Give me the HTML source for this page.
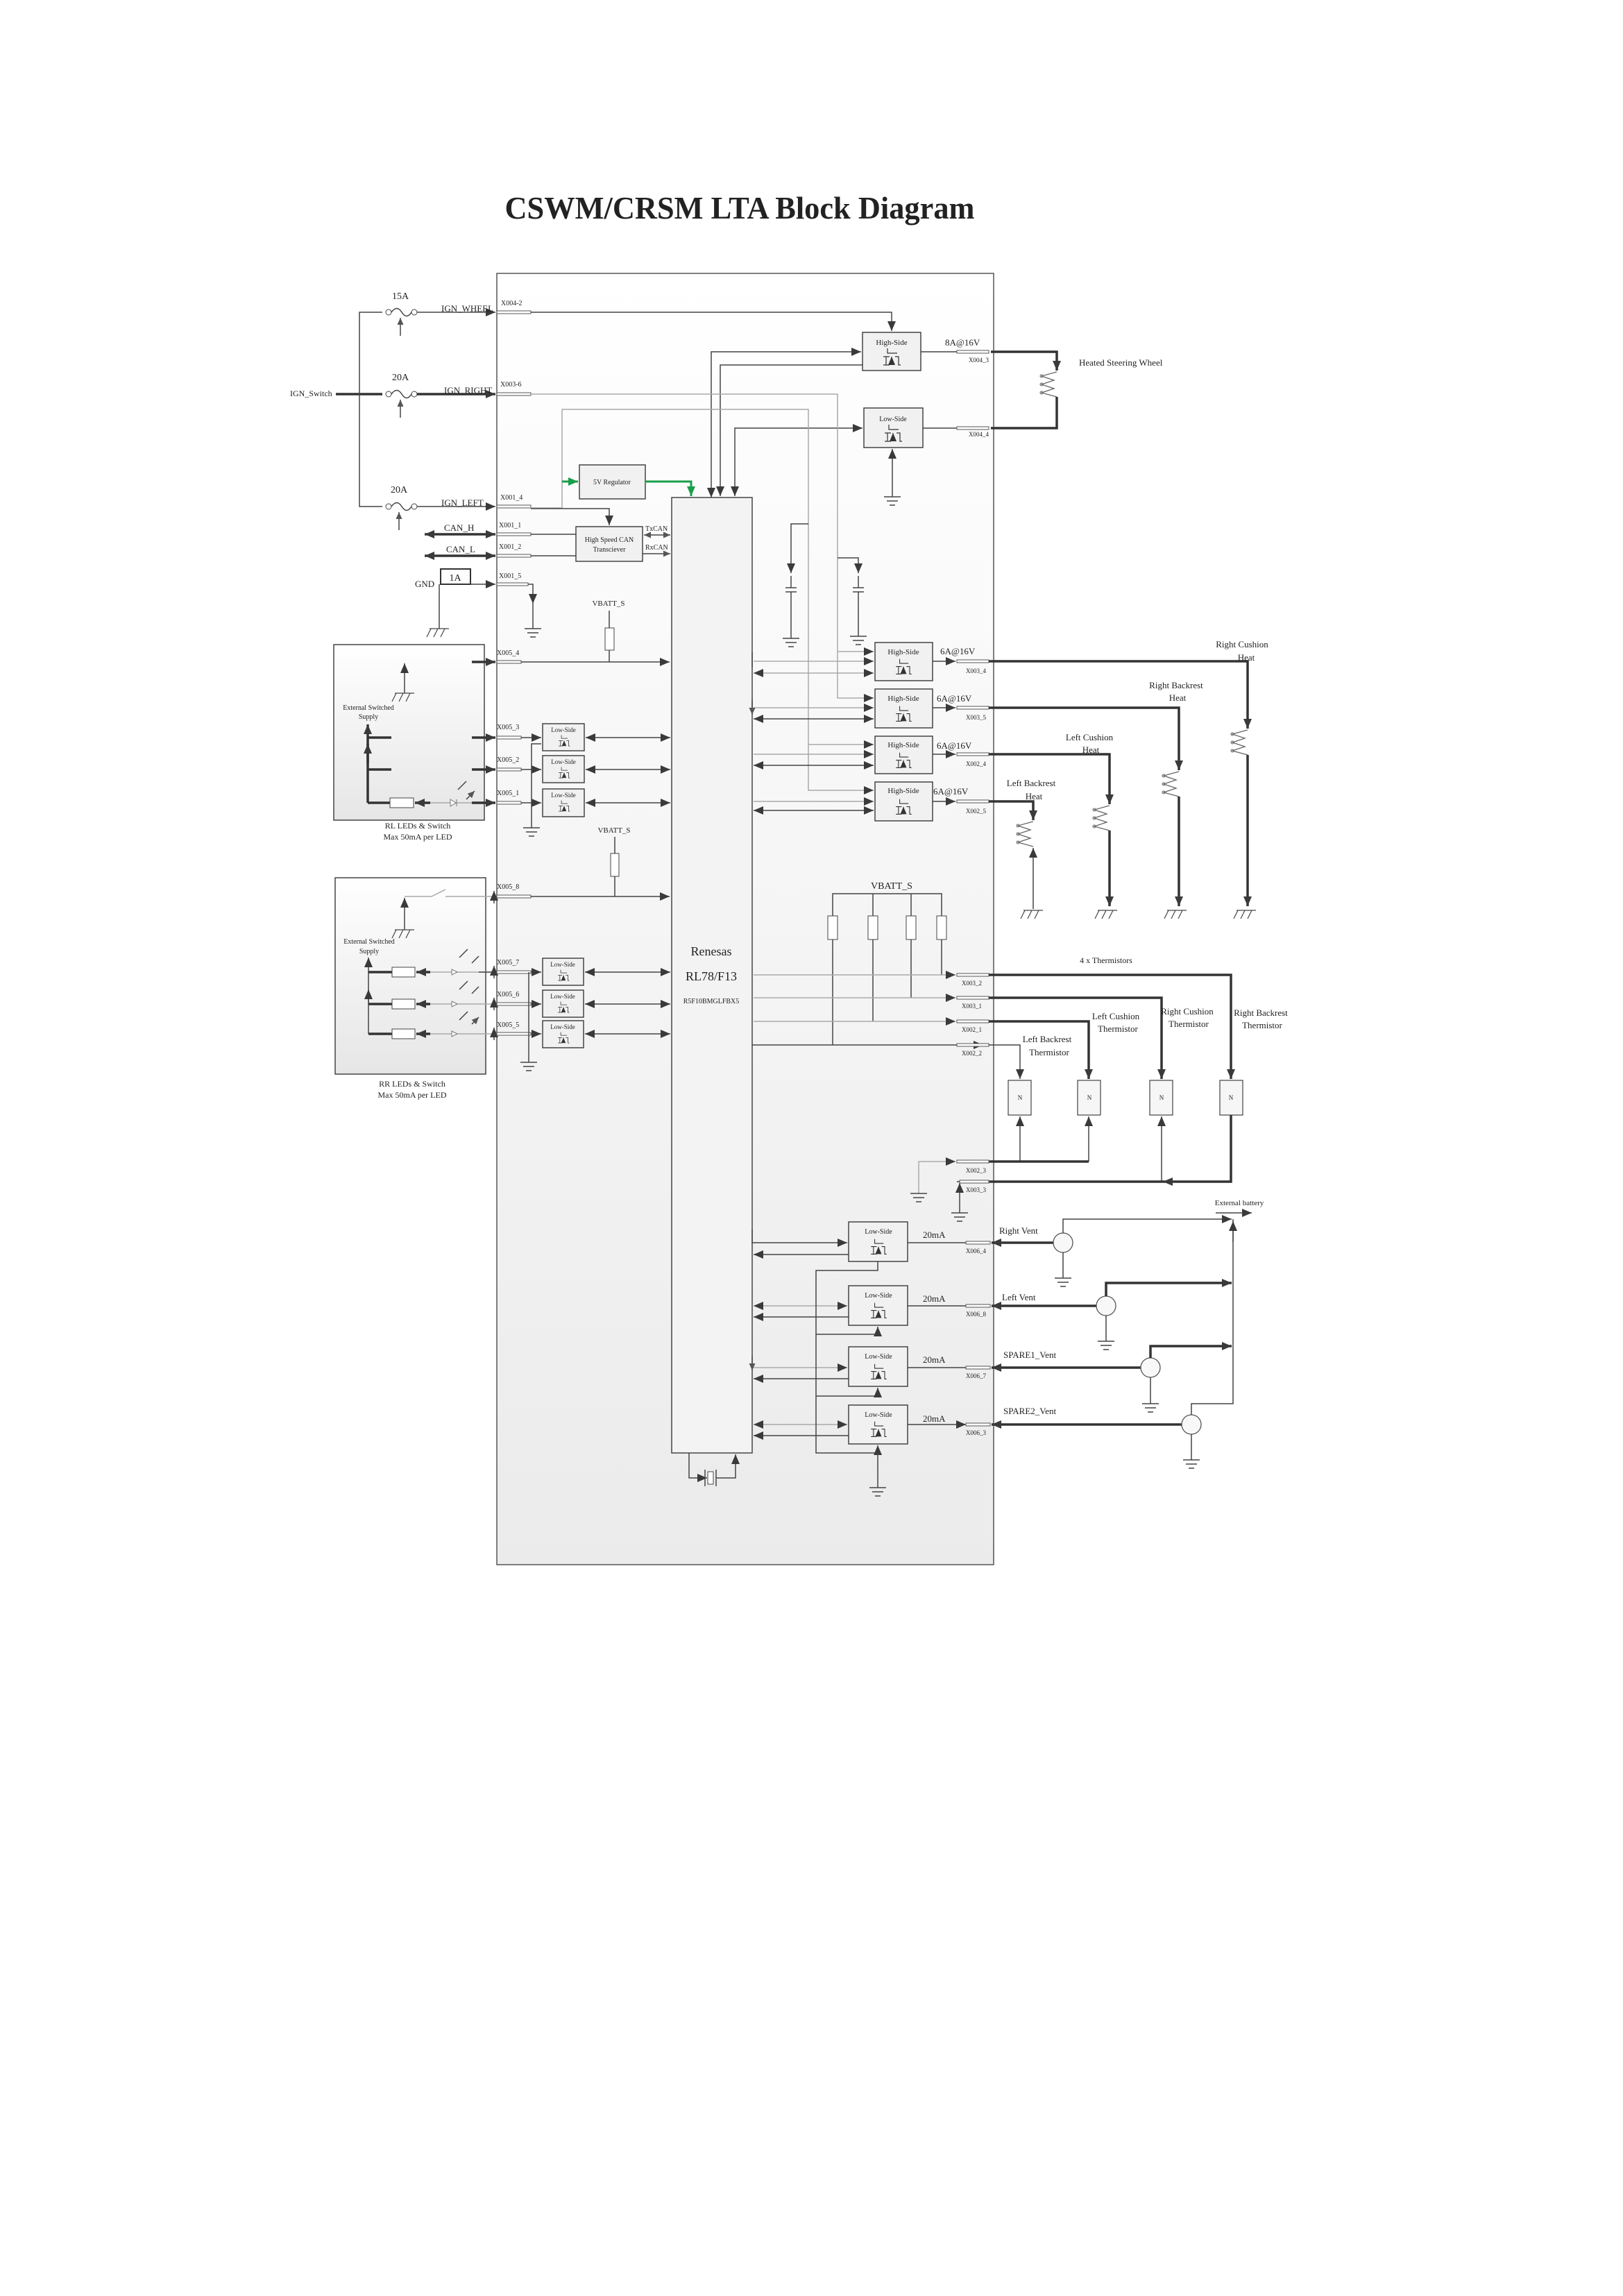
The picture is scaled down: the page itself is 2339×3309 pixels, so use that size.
<!DOCTYPE html>
<html><head><meta charset="utf-8"><style>
html,body{margin:0;padding:0;background:#fff}
svg{display:block}
text{font-family:"Liberation Serif",serif;fill:#222}
.t{stroke:#444;stroke-width:1.5;fill:none}
.k{stroke:#333;stroke-width:3.5;fill:none}
.g{stroke:#aaa;stroke-width:1.5;fill:none}
.gr{stroke:#1a9e4a;stroke-width:3;fill:none}
.bx{fill:#f1f1f1;stroke:#444;stroke-width:1.5}
.st{fill:#fff;stroke:#555;stroke-width:1}
</style></head><body>
<svg width="2339" height="3309" viewBox="0 0 2339 3309" xmlns="http://www.w3.org/2000/svg">
<defs>
<linearGradient id="bg" x1="0" y1="0" x2="0" y2="1"><stop offset="0" stop-color="#ffffff"/><stop offset="1" stop-color="#ebebeb"/></linearGradient>
<linearGradient id="pg" x1="0" y1="0" x2="0" y2="1"><stop offset="0" stop-color="#ffffff"/><stop offset="1" stop-color="#e6e6e6"/></linearGradient>
<marker id="a" markerWidth="14" markerHeight="12" refX="14" refY="6" orient="auto-start-reverse" markerUnits="userSpaceOnUse"><path d="M0,0 L14,6 L0,12z" fill="#3a3a3a"/></marker>
<marker id="ag" markerWidth="14" markerHeight="12" refX="14" refY="6" orient="auto-start-reverse" markerUnits="userSpaceOnUse"><path d="M0,0 L14,6 L0,12z" fill="#1a9e4a"/></marker>
<marker id="as" markerWidth="10" markerHeight="9" refX="10" refY="4.5" orient="auto-start-reverse" markerUnits="userSpaceOnUse"><path d="M0,0 L10,4.5 L0,9z" fill="#555"/></marker>
<symbol id="fet" viewBox="0 0 40 30" overflow="visible"><path d="M14,2 V9 H28 M8,14 H17 M12,14 V26 M8,26 H17 M25,14 H30 V26 H33 M20,14 V26" stroke="#333" stroke-width="1.2" fill="none"/><path d="M15,26 L20,14 L25,26z" fill="#333"/></symbol>
<g id="gnd"><path d="M-12,0 H12 M-8,6 H8 M-4,12 H4" stroke="#444" stroke-width="1.5"/></g>
<g id="ch"><path d="M-14,0 H14 M-12,0 L-18,12 M-2,0 L-8,12 M8,0 L2,12" stroke="#444" stroke-width="1.2"/></g>
<g id="ht"><polyline points="0,0 -22,6 -4,12 -22,18 -4,24 -22,30 0,36" fill="none" stroke="#666" stroke-width="1.3"/><circle cx="-22" cy="6" r="2" fill="none" stroke="#666"/><circle cx="-22" cy="18" r="2" fill="none" stroke="#666"/><circle cx="-22" cy="30" r="2" fill="none" stroke="#666"/></g>
</defs>

<rect width="2339" height="3309" fill="#fff"/>
<text x="1066" y="315" font-size="46" font-weight="bold" text-anchor="middle" textLength="677" lengthAdjust="spacingAndGlyphs">CSWM/CRSM LTA Block Diagram</text>

<!-- main box -->
<rect x="716" y="394" width="716" height="1861" fill="url(#bg)" stroke="#555" stroke-width="1.5"/>
<rect x="968" y="717" width="116" height="1377" fill="#f3f3f3" stroke="#444" stroke-width="1.5"/>
<text x="1025" y="1377" font-size="18" text-anchor="middle">Renesas</text>
<text x="1025" y="1413" font-size="18" text-anchor="middle">RL78/F13</text>
<text x="1025" y="1446" font-size="10" text-anchor="middle">R5F10BMGLFBX5</text>

<!-- IGN inputs -->
<text x="418" y="571" font-size="12">IGN_Switch</text>
<path class="k" d="M484,568 H551"/>
<path class="t" d="M551,450 H518 V730 H551"/>
<g>
<circle cx="560" cy="450" r="4" fill="none" stroke="#444"/><path class="t" d="M564,450 q8,-11 15,0 t14,0"/><circle cx="597" cy="450" r="4" fill="none" stroke="#444"/>
<circle cx="560" cy="568" r="4" fill="none" stroke="#444"/><path class="t" d="M564,568 q8,-11 15,0 t14,0"/><circle cx="597" cy="568" r="4" fill="none" stroke="#444"/>
<circle cx="560" cy="730" r="4" fill="none" stroke="#444"/><path class="t" d="M564,730 q8,-11 15,0 t14,0"/><circle cx="597" cy="730" r="4" fill="none" stroke="#444"/>
<path class="t" d="M577,484 V458" marker-end="url(#as)"/><path class="t" d="M577,602 V576" marker-end="url(#as)"/><path class="t" d="M575,764 V738" marker-end="url(#as)"/>
</g>
<text x="577" y="431" font-size="14" text-anchor="middle">15A</text>
<text x="577" y="548" font-size="14" text-anchor="middle">20A</text>
<text x="575" y="710" font-size="14" text-anchor="middle">20A</text>
<path class="t" d="M601,450 H714" marker-end="url(#a)"/>
<path class="k" d="M601,568 H714" marker-end="url(#a)"/>
<path class="t" d="M601,730 H714" marker-end="url(#a)"/>
<text x="636" y="449" font-size="13">IGN_WHEEL</text>
<text x="640" y="567" font-size="13">IGN_RIGHT</text>
<text x="636" y="729" font-size="13">IGN_LEFT</text>
<rect class="st" x="716" y="448" width="49" height="4"/><rect class="st" x="716" y="566" width="49" height="4"/><rect class="st" x="716" y="728" width="49" height="4"/>
<text x="722" y="440" font-size="10">X004-2</text><text x="721" y="557" font-size="10">X003-6</text><text x="721" y="720" font-size="10">X001_4</text>

<!-- steering high side -->
<path class="t" d="M765,450 H1285 V477" marker-end="url(#a)"/>
<rect class="bx" x="1243" y="479" width="84" height="55"/>
<text x="1285" y="497" font-size="11" text-anchor="middle">High-Side</text>
<use href="#fet" x="1265" y="500" width="40" height="30"/>
<path class="t" d="M1025,717 V507 H1241" marker-start="url(#a)" marker-end="url(#a)"/>
<path class="t" d="M1243,526 H1038 V715" marker-end="url(#a)"/>
<path class="t" d="M1327,507 H1380"/><rect class="st" x="1379" y="505" width="46" height="4"/>
<text x="1362" y="498" font-size="13">8A@16V</text><text x="1396" y="522" font-size="9">X004_3</text>
<path class="k" d="M1428,507 H1523 V534" marker-end="url(#a)"/>
<use href="#ht" x="1523" y="536"/>
<path class="k" d="M1523,572 V617 H1428"/>
<text x="1555" y="527" font-size="13">Heated Steering Wheel</text>
<rect class="bx" x="1245" y="588" width="85" height="57"/>
<text x="1287" y="607" font-size="10" text-anchor="middle">Low-Side</text>
<use href="#fet" x="1267" y="610" width="40" height="30"/>
<path class="t" d="M1330,617 H1380"/><rect class="st" x="1379" y="615" width="46" height="4"/>
<text x="1396" y="629" font-size="9">X004_4</text>
<path class="t" d="M1286,716 V647" marker-end="url(#a)"/><use href="#gnd" x="1286" y="716"/>
<path class="t" d="M1059,715 V617 H1243" marker-start="url(#a)" marker-end="url(#a)"/>

<!-- gray supply lines -->
<path class="g" d="M765,568 H1207 V1006 H1259" marker-end="url(#a)"/>
<path class="g" d="M1207,939 H1259" marker-end="url(#a)"/>
<path class="t" d="M1207,804 H1237 V826" marker-end="url(#a)"/>
<path class="t" d="M1229,847 H1245 M1229,853 H1245 M1237,830 V847 M1237,853 V917"/><use href="#gnd" x="1237" y="917"/>
<path class="g" d="M765,732 H810 V590 H1165 V1139 H1259" marker-end="url(#a)"/>
<path class="g" d="M1165,1073 H1259" marker-end="url(#a)"/>
<path class="t" d="M1165,755 H1140 V826" marker-end="url(#a)"/>
<path class="t" d="M1132,847 H1148 M1132,853 H1148 M1140,830 V847 M1140,853 V920"/><use href="#gnd" x="1140" y="920"/>
<path class="gr" d="M810,694 H833" marker-end="url(#ag)"/>
<rect class="bx" x="835" y="670" width="95" height="49"/>
<text x="882" y="698" font-size="10" text-anchor="middle">5V Regulator</text>
<path class="gr" d="M930,694 H996 V715" marker-end="url(#ag)"/>

<!-- CAN -->
<path class="t" d="M765,733 H878 V757" marker-end="url(#a)"/>
<rect class="bx" x="830" y="759" width="96" height="50"/>
<text x="878" y="781" font-size="10" text-anchor="middle">High Speed CAN</text>
<text x="878" y="795" font-size="10" text-anchor="middle">Transciever</text>
<path class="t" d="M928,771 H966" marker-start="url(#as)" marker-end="url(#as)"/>
<path class="t" d="M926,798 H966" marker-end="url(#as)"/>
<text x="930" y="765" font-size="10">TxCAN</text><text x="930" y="792" font-size="10">RxCAN</text>
<path class="k" d="M612,770 H714" marker-start="url(#a)" marker-end="url(#a)"/>
<path class="k" d="M612,801 H714" marker-start="url(#a)" marker-end="url(#a)"/>
<text x="640" y="765" font-size="13">CAN_H</text><text x="643" y="796" font-size="13">CAN_L</text>
<rect class="st" x="716" y="768" width="49" height="4"/><rect class="st" x="716" y="799" width="49" height="4"/>
<text x="719" y="760" font-size="10">X001_1</text><text x="719" y="791" font-size="10">X001_2</text>
<path class="t" d="M765,770 H830 M765,801 H830"/>
<text x="598" y="846" font-size="13">GND</text>
<rect x="635" y="820" width="43" height="22" fill="#fff" stroke="#333" stroke-width="2"/>
<text x="656" y="837" font-size="14" text-anchor="middle">1A</text>
<path class="t" d="M678,842 H714" marker-end="url(#a)"/>
<rect class="st" x="716" y="840" width="45" height="4"/>
<text x="719" y="833" font-size="10">X001_5</text>
<path class="t" d="M761,842 H768 V870" marker-end="url(#a)"/><path class="t" d="M768,870 V906"/><use href="#gnd" x="768" y="906"/>
<path class="t" d="M633,842 V906"/><use href="#ch" x="633" y="906"/>

<!-- VBATT 1 & X005_4 -->
<text x="877" y="873" font-size="11" text-anchor="middle">VBATT_S</text>
<path class="t" d="M878,880 V905 M878,937 V954"/><rect x="872" y="905" width="13" height="32" fill="#fff" stroke="#444"/>

<!-- RL panel -->
<rect x="481" y="929" width="217" height="253" fill="url(#pg)" stroke="#444" stroke-width="1.5"/>
<text x="602" y="1194" font-size="12" text-anchor="middle">RL LEDs &amp; Switch</text>
<text x="602" y="1210" font-size="12" text-anchor="middle">Max 50mA per LED</text>
<path class="t" d="M583,999 V956" marker-end="url(#a)"/><use href="#ch" x="583" y="999"/>
<text x="531" y="1023" font-size="10" text-anchor="middle">External Switched</text>
<text x="531" y="1036" font-size="10" text-anchor="middle">Supply</text>
<path class="k" d="M530,1157 V1044" marker-end="url(#a)"/>
<path class="k" d="M530,1063 H564 M530,1109 H564 M530,1157 H562"/>
<path class="k" d="M530,1100 V1072" marker-end="url(#a)"/>
<rect x="562" y="1150" width="34" height="14" fill="#fff" stroke="#444"/>
<path class="k" d="M620,1157 H598" marker-end="url(#a)"/>
<path class="g" d="M620,1157 H680"/><path d="M649,1152 L657,1157 L649,1162z M658,1152 V1162" fill="#fff" stroke="#777"/>
<path class="t" d="M660,1138 L672,1126 M672,1152 L684,1140" marker-end="url(#as)"/>
<path class="k" d="M680,954 H714" marker-end="url(#a)"/>
<path class="k" d="M680,1063 H714" marker-end="url(#a)"/><path class="k" d="M680,1109 H714" marker-end="url(#a)"/><path class="k" d="M680,1157 H714" marker-end="url(#a)"/>
<rect class="st" x="716" y="952" width="35" height="4"/><rect class="st" x="716" y="1061" width="35" height="4"/><rect class="st" x="716" y="1107" width="35" height="4"/><rect class="st" x="716" y="1155" width="35" height="4"/>
<text x="716" y="944" font-size="10">X005_4</text><text x="716" y="1051" font-size="10">X005_3</text><text x="716" y="1098" font-size="10">X005_2</text><text x="716" y="1146" font-size="10">X005_1</text>
<path class="t" d="M751,954 H965" marker-end="url(#a)"/>
<g>
<rect class="bx" x="782" y="1043" width="60" height="39"/><text x="812" y="1055" font-size="9" text-anchor="middle">Low-Side</text><use href="#fet" x="800" y="1058" width="26" height="20"/>
<rect class="bx" x="782" y="1089" width="60" height="39"/><text x="812" y="1101" font-size="9" text-anchor="middle">Low-Side</text><use href="#fet" x="800" y="1104" width="26" height="20"/>
<rect class="bx" x="782" y="1137" width="60" height="40"/><text x="812" y="1149" font-size="9" text-anchor="middle">Low-Side</text><use href="#fet" x="800" y="1152" width="26" height="20"/>
</g>
<path class="t" d="M751,1063 H780" marker-end="url(#a)"/><path class="t" d="M751,1109 H780" marker-end="url(#a)"/><path class="t" d="M751,1157 H780" marker-end="url(#a)"/>
<path class="t" d="M766,1193 V1072 H780"/><use href="#gnd" x="766" y="1193"/>
<path class="t" d="M844,1063 H966" marker-start="url(#a)" marker-end="url(#a)"/>
<path class="t" d="M844,1109 H966" marker-start="url(#a)" marker-end="url(#a)"/>
<path class="t" d="M844,1157 H966" marker-start="url(#a)" marker-end="url(#a)"/>

<!-- VBATT 2 & X005_8 -->
<text x="885" y="1200" font-size="11" text-anchor="middle">VBATT_S</text>
<path class="t" d="M886,1206 V1230 M886,1263 V1292"/><rect x="880" y="1230" width="12" height="33" fill="#fff" stroke="#444"/>

<!-- RR panel -->
<rect x="483" y="1265" width="217" height="283" fill="url(#pg)" stroke="#444" stroke-width="1.5"/>
<text x="594" y="1566" font-size="12" text-anchor="middle">RR LEDs &amp; Switch</text>
<text x="594" y="1582" font-size="12" text-anchor="middle">Max 50mA per LED</text>
<path class="t" d="M583,1340 V1294" marker-end="url(#a)"/><use href="#ch" x="583" y="1340"/>
<path class="g" d="M583,1292 H622 M622,1292 L642,1282 M642,1292 H712"/>
<text x="532" y="1360" font-size="10" text-anchor="middle">External Switched</text>
<text x="532" y="1374" font-size="10" text-anchor="middle">Supply</text>
<path class="t" d="M531,1490 V1380" marker-end="url(#a)"/>
<path class="t" d="M531,1445 V1426" marker-end="url(#a)"/>
<path class="k" d="M531,1401 H565 M531,1447 H565 M531,1490 H565"/>
<rect x="565" y="1394" width="33" height="14" fill="#fff" stroke="#444"/>
<rect x="565" y="1440" width="33" height="14" fill="#fff" stroke="#444"/>
<rect x="565" y="1483" width="33" height="14" fill="#fff" stroke="#444"/>
<path class="k" d="M620,1401 H600" marker-end="url(#a)"/><path class="k" d="M620,1447 H600" marker-end="url(#a)"/><path class="k" d="M620,1490 H600" marker-end="url(#a)"/>
<path class="g" d="M620,1401 H716 M620,1447 H716 M620,1490 H716"/>
<path d="M651,1397 L659,1401 L651,1405z M651,1443 L659,1447 L651,1451z M651,1486 L659,1490 L651,1494z" fill="#fff" stroke="#777"/>
<path class="t" d="M662,1380 L674,1368 M680,1388 L690,1378 M662,1426 L674,1414 M680,1432 L690,1422 M662,1470 L674,1458 M680,1476 L690,1466" marker-end="url(#as)"/>
<path class="t" d="M713,1401 H690"/>
<path class="t" d="M712,1410 V1392" marker-end="url(#a)"/><path class="t" d="M712,1456 V1438" marker-end="url(#a)"/><path class="t" d="M712,1499 V1481" marker-end="url(#a)"/><path class="t" d="M712,1302 V1284" marker-end="url(#a)"/>
<rect class="st" x="716" y="1290" width="49" height="4"/><rect class="st" x="716" y="1399" width="49" height="4"/><rect class="st" x="716" y="1445" width="49" height="4"/><rect class="st" x="716" y="1488" width="49" height="4"/>
<text x="716" y="1281" font-size="10">X005_8</text><text x="716" y="1390" font-size="10">X005_7</text><text x="716" y="1436" font-size="10">X005_6</text><text x="716" y="1480" font-size="10">X005_5</text>
<path class="t" d="M765,1292 H965" marker-end="url(#a)"/>
<rect class="bx" x="782" y="1381" width="59" height="39"/><text x="811" y="1393" font-size="9" text-anchor="middle">Low-Side</text><use href="#fet" x="799" y="1396" width="26" height="20"/>
<rect class="bx" x="782" y="1427" width="59" height="39"/><text x="811" y="1439" font-size="9" text-anchor="middle">Low-Side</text><use href="#fet" x="799" y="1442" width="26" height="20"/>
<rect class="bx" x="782" y="1471" width="59" height="39"/><text x="811" y="1483" font-size="9" text-anchor="middle">Low-Side</text><use href="#fet" x="799" y="1486" width="26" height="20"/>
<path class="t" d="M765,1401 H780" marker-end="url(#a)"/><path class="t" d="M765,1447 H780" marker-end="url(#a)"/><path class="t" d="M765,1490 H780" marker-end="url(#a)"/>
<path class="t" d="M762,1531 V1401"/><use href="#gnd" x="762" y="1531"/>
<path class="t" d="M843,1401 H966" marker-start="url(#a)" marker-end="url(#a)"/>
<path class="t" d="M843,1447 H966" marker-start="url(#a)" marker-end="url(#a)"/>
<path class="t" d="M843,1490 H966" marker-start="url(#a)" marker-end="url(#a)"/>

<!-- right-side heater drivers -->
<g>
<rect class="bx" x="1261" y="926" width="83" height="55"/><text x="1302" y="943" font-size="11" text-anchor="middle">High-Side</text><use href="#fet" x="1284" y="948" width="36" height="27"/>
<rect class="bx" x="1261" y="993" width="83" height="56"/><text x="1302" y="1010" font-size="11" text-anchor="middle">High-Side</text><use href="#fet" x="1284" y="1016" width="36" height="27"/>
<rect class="bx" x="1261" y="1061" width="83" height="54"/><text x="1302" y="1077" font-size="11" text-anchor="middle">High-Side</text><use href="#fet" x="1284" y="1083" width="36" height="27"/>
<rect class="bx" x="1261" y="1127" width="83" height="56"/><text x="1302" y="1143" font-size="11" text-anchor="middle">High-Side</text><use href="#fet" x="1284" y="1150" width="36" height="27"/>
</g>
<path class="g" d="M1086,953 H1259" marker-end="url(#a)"/><path class="g" d="M1086,970 H1259" marker-start="url(#a)" marker-end="url(#a)"/>
<path class="g" d="M1086,1020 H1259" marker-end="url(#a)"/><path class="t" d="M1086,1036 H1259" marker-start="url(#a)" marker-end="url(#a)"/>
<path class="g" d="M1086,1087 H1259" marker-end="url(#a)"/><path class="t" d="M1086,1103 H1259" marker-start="url(#a)" marker-end="url(#a)"/>
<path class="g" d="M1086,1155 H1259" marker-end="url(#a)"/><path class="t" d="M1086,1168 H1259" marker-start="url(#a)" marker-end="url(#a)"/>
<path class="t" d="M1084,940 V962 M1084,1008 V1030" marker-end="url(#as)"/>
<text x="1355" y="943" font-size="13">6A@16V</text><text x="1350" y="1011" font-size="13">6A@16V</text><text x="1350" y="1079" font-size="13">6A@16V</text><text x="1345" y="1145" font-size="13">6A@16V</text>
<path class="t" d="M1344,953 H1377" marker-end="url(#a)"/><path class="t" d="M1344,1020 H1377" marker-end="url(#a)"/><path class="t" d="M1344,1087 H1377" marker-end="url(#a)"/><path class="t" d="M1344,1155 H1377" marker-end="url(#a)"/>
<rect class="st" x="1379" y="951" width="46" height="4"/><rect class="st" x="1379" y="1018" width="46" height="4"/><rect class="st" x="1379" y="1085" width="46" height="4"/><rect class="st" x="1379" y="1153" width="46" height="4"/>
<text x="1392" y="970" font-size="9">X003_4</text><text x="1392" y="1037" font-size="9">X003_5</text><text x="1392" y="1104" font-size="9">X002_4</text><text x="1392" y="1172" font-size="9">X002_5</text>
<path class="k" d="M1425,953 H1798 V1050" marker-end="url(#a)"/><use href="#ht" x="1798" y="1052"/><path class="k" d="M1798,1088 V1306" marker-end="url(#a)"/>
<path class="k" d="M1425,1020 H1699 V1110" marker-end="url(#a)"/><use href="#ht" x="1699" y="1112"/><path class="k" d="M1699,1148 V1306" marker-end="url(#a)"/>
<path class="k" d="M1425,1087 H1599 V1159" marker-end="url(#a)"/><use href="#ht" x="1599" y="1161"/><path class="k" d="M1599,1197 V1306" marker-end="url(#a)"/>
<path class="k" d="M1425,1155 H1489 V1182" marker-end="url(#a)"/><use href="#ht" x="1489" y="1184"/><path class="t" d="M1489,1310 V1222" marker-end="url(#a)"/>
<use href="#ch" x="1489" y="1312"/><use href="#ch" x="1596" y="1312"/><use href="#ch" x="1696" y="1312"/><use href="#ch" x="1796" y="1312"/>
<g font-size="13" text-anchor="middle">
<text x="1790" y="933">Right Cushion</text><text x="1796" y="952">Heat</text>
<text x="1695" y="992">Right Backrest</text><text x="1697" y="1010">Heat</text>
<text x="1570" y="1067">Left Cushion</text><text x="1572" y="1085">Heat</text>
<text x="1486" y="1133">Left Backrest</text><text x="1490" y="1152">Heat</text>
</g>

<!-- thermistors -->
<text x="1285" y="1281" font-size="14" text-anchor="middle">VBATT_S</text>
<path class="t" d="M1200,1320 V1288 H1357 V1320 M1258,1288 V1320 M1313,1288 V1320"/>
<rect x="1193" y="1320" width="14" height="34" fill="#fff" stroke="#444"/><rect x="1251" y="1320" width="14" height="34" fill="#fff" stroke="#444"/><rect x="1306" y="1320" width="14" height="34" fill="#fff" stroke="#444"/><rect x="1350" y="1320" width="14" height="34" fill="#fff" stroke="#444"/>
<path class="t" d="M1357,1354 V1405 M1313,1354 V1438 M1258,1354 V1472 M1200,1354 V1506"/>
<path class="g" d="M1086,1405 H1377" marker-end="url(#a)"/>
<path class="g" d="M1086,1438 H1377" marker-end="url(#a)"/>
<path class="g" d="M1086,1472 H1377" marker-end="url(#a)"/>
<path class="t" d="M1084,1506 H1417" marker-end="url(#a)"/>
<rect class="st" x="1379" y="1403" width="46" height="4"/><rect class="st" x="1379" y="1436" width="46" height="4"/><rect class="st" x="1379" y="1470" width="46" height="4"/><rect class="st" x="1379" y="1504" width="46" height="4"/>
<text x="1386" y="1420" font-size="9">X003_2</text><text x="1386" y="1453" font-size="9">X003_1</text><text x="1386" y="1487" font-size="9">X002_1</text><text x="1386" y="1521" font-size="9">X002_2</text>
<text x="1594" y="1388" font-size="12" text-anchor="middle">4 x Thermistors</text>
<path class="k" d="M1425,1405 H1774 V1555" marker-end="url(#a)"/>
<path class="k" d="M1425,1438 H1674 V1555" marker-end="url(#a)"/>
<path class="k" d="M1425,1472 H1569 V1555" marker-end="url(#a)"/>
<path class="t" d="M1425,1506 H1470 V1555" marker-end="url(#a)"/>
<g fill="#f6f6f6" stroke="#444" stroke-width="1.2">
<rect x="1453" y="1557" width="33" height="50"/><rect x="1553" y="1557" width="33" height="50"/><rect x="1657" y="1557" width="33" height="50"/><rect x="1758" y="1557" width="33" height="50"/>
</g>
<g font-size="9" text-anchor="middle"><text x="1470" y="1585">N</text><text x="1570" y="1585">N</text><text x="1674" y="1585">N</text><text x="1774" y="1585">N</text></g>
<g font-size="13" text-anchor="middle">
<text x="1509" y="1502">Left Backrest</text><text x="1512" y="1521">Thermistor</text>
<text x="1608" y="1469">Left Cushion</text><text x="1611" y="1487">Thermistor</text>
<text x="1711" y="1462">Right Cushion</text><text x="1713" y="1480">Thermistor</text>
<text x="1817" y="1464">Right Backrest</text><text x="1819" y="1482">Thermistor</text>
</g>
<path class="t" d="M1470,1674 V1609" marker-end="url(#a)"/><path class="t" d="M1569,1674 V1609" marker-end="url(#a)"/>
<path class="k" d="M1425,1674 H1569"/>
<path class="t" d="M1674,1703 V1609" marker-end="url(#a)"/>
<path class="k" d="M1774,1607 V1703 H1676" marker-end="url(#a)"/><path class="k" d="M1676,1703 H1425"/>
<path class="g" d="M1324,1720 V1674 H1377" marker-end="url(#a)"/><use href="#gnd" x="1324" y="1720"/>
<path class="t" d="M1383,1748 V1705" marker-end="url(#a)"/><path class="t" d="M1383,1703 H1379"/><use href="#gnd" x="1383" y="1748"/>
<rect class="st" x="1379" y="1672" width="46" height="4"/><rect class="st" x="1383" y="1701" width="42" height="4"/>
<text x="1392" y="1690" font-size="9">X002_3</text><text x="1392" y="1718" font-size="9">X003_3</text>

<!-- vents -->
<text x="1786" y="1737" font-size="11" text-anchor="middle">External battery</text>
<path class="t" d="M1752,1748 H1804" marker-end="url(#a)"/>
<g>
<rect class="bx" x="1223" y="1761" width="85" height="57"/><text x="1266" y="1778" font-size="10" text-anchor="middle">Low-Side</text><use href="#fet" x="1248" y="1784" width="36" height="27"/>
<rect class="bx" x="1223" y="1853" width="85" height="57"/><text x="1266" y="1870" font-size="10" text-anchor="middle">Low-Side</text><use href="#fet" x="1248" y="1876" width="36" height="27"/>
<rect class="bx" x="1223" y="1941" width="85" height="57"/><text x="1266" y="1958" font-size="10" text-anchor="middle">Low-Side</text><use href="#fet" x="1248" y="1964" width="36" height="27"/>
<rect class="bx" x="1223" y="2025" width="85" height="56"/><text x="1266" y="2042" font-size="10" text-anchor="middle">Low-Side</text><use href="#fet" x="1248" y="2047" width="36" height="27"/>
</g>
<path class="t" d="M1084,1791 H1221" marker-end="url(#a)"/><path class="t" d="M1223,1808 H1086" marker-end="url(#a)"/>
<path class="g" d="M1086,1882 H1221" marker-start="url(#a)" marker-end="url(#a)"/><path class="t" d="M1223,1898 H1086" marker-end="url(#a)"/>
<path class="g" d="M1084,1971 H1221" marker-end="url(#a)"/><path class="t" d="M1223,1987 H1086" marker-end="url(#a)"/>
<path class="g" d="M1086,2053 H1221" marker-start="url(#a)" marker-end="url(#a)"/><path class="t" d="M1223,2069 H1086" marker-end="url(#a)"/>
<path class="t" d="M1084,1772 V1792 M1084,1955 V1975" marker-end="url(#as)"/>
<path class="t" d="M1265,1818 V1831 H1176 V2094 H1265 V2083" marker-end="url(#a)"/>
<path class="t" d="M1176,1923 H1265 V1912" marker-end="url(#a)"/>
<path class="t" d="M1176,2012 H1265 V2000" marker-end="url(#a)"/>
<path class="t" d="M1265,2094 V2144"/><use href="#gnd" x="1265" y="2144"/>
<g font-size="13"><text x="1330" y="1784">20mA</text><text x="1330" y="1876">20mA</text><text x="1330" y="1964">20mA</text><text x="1330" y="2049">20mA</text></g>
<path class="t" d="M1308,1791 H1392 M1308,1882 H1392 M1308,1971 H1392 M1308,2053 H1390" />
<path class="t" d="M1390,2053 H1392" marker-end="url(#a)"/>
<rect class="st" x="1392" y="1789" width="35" height="4"/><rect class="st" x="1392" y="1880" width="35" height="4"/><rect class="st" x="1392" y="1969" width="35" height="4"/><rect class="st" x="1392" y="2051" width="35" height="4"/>
<g font-size="9"><text x="1392" y="1806">X006_4</text><text x="1392" y="1897">X006_8</text><text x="1392" y="1986">X006_7</text><text x="1392" y="2068">X006_3</text></g>
<path class="k" d="M1518,1791 H1429" marker-end="url(#a)"/>
<path class="k" d="M1580,1882 H1429" marker-end="url(#a)"/>
<path class="k" d="M1644,1971 H1429" marker-end="url(#a)"/>
<path class="k" d="M1703,2053 H1429" marker-end="url(#a)"/>
<g fill="#f8f8f8" stroke="#555" stroke-width="1.3">
<circle cx="1532" cy="1791" r="14"/><circle cx="1594" cy="1882" r="14"/><circle cx="1658" cy="1971" r="14"/><circle cx="1717" cy="2053" r="14"/>
</g>
<path class="t" d="M1532,1805 V1842 M1594,1896 V1933 M1658,1985 V2023 M1717,2067 V2104"/>
<use href="#gnd" x="1532" y="1842"/><use href="#gnd" x="1594" y="1933"/><use href="#gnd" x="1658" y="2023"/><use href="#gnd" x="1717" y="2104"/>
<path class="t" d="M1532,1777 V1757 H1775" marker-end="url(#a)"/>
<path class="k" d="M1594,1868 V1849 H1775" marker-end="url(#a)"/>
<path class="k" d="M1658,1957 V1940 H1775" marker-end="url(#a)"/>
<path class="t" d="M1717,2039 V2023 H1777 V1757"/>
<path class="t" d="M1777,1790 V1760" marker-end="url(#a)"/>
<g font-size="13"><text x="1440" y="1778">Right Vent</text><text x="1444" y="1874">Left Vent</text><text x="1446" y="1957">SPARE1_Vent</text><text x="1446" y="2038">SPARE2_Vent</text></g>

<!-- crystal -->
<path class="t" d="M993,2094 V2130 H1019" marker-end="url(#a)"/>
<rect x="1020" y="2121" width="8" height="18" fill="#fff" stroke="#444"/>
<path class="t" d="M1016,2118 V2142 M1032,2118 V2142"/>
<path class="t" d="M1032,2130 H1060 V2096" marker-end="url(#a)"/>
</svg>
</body></html>
